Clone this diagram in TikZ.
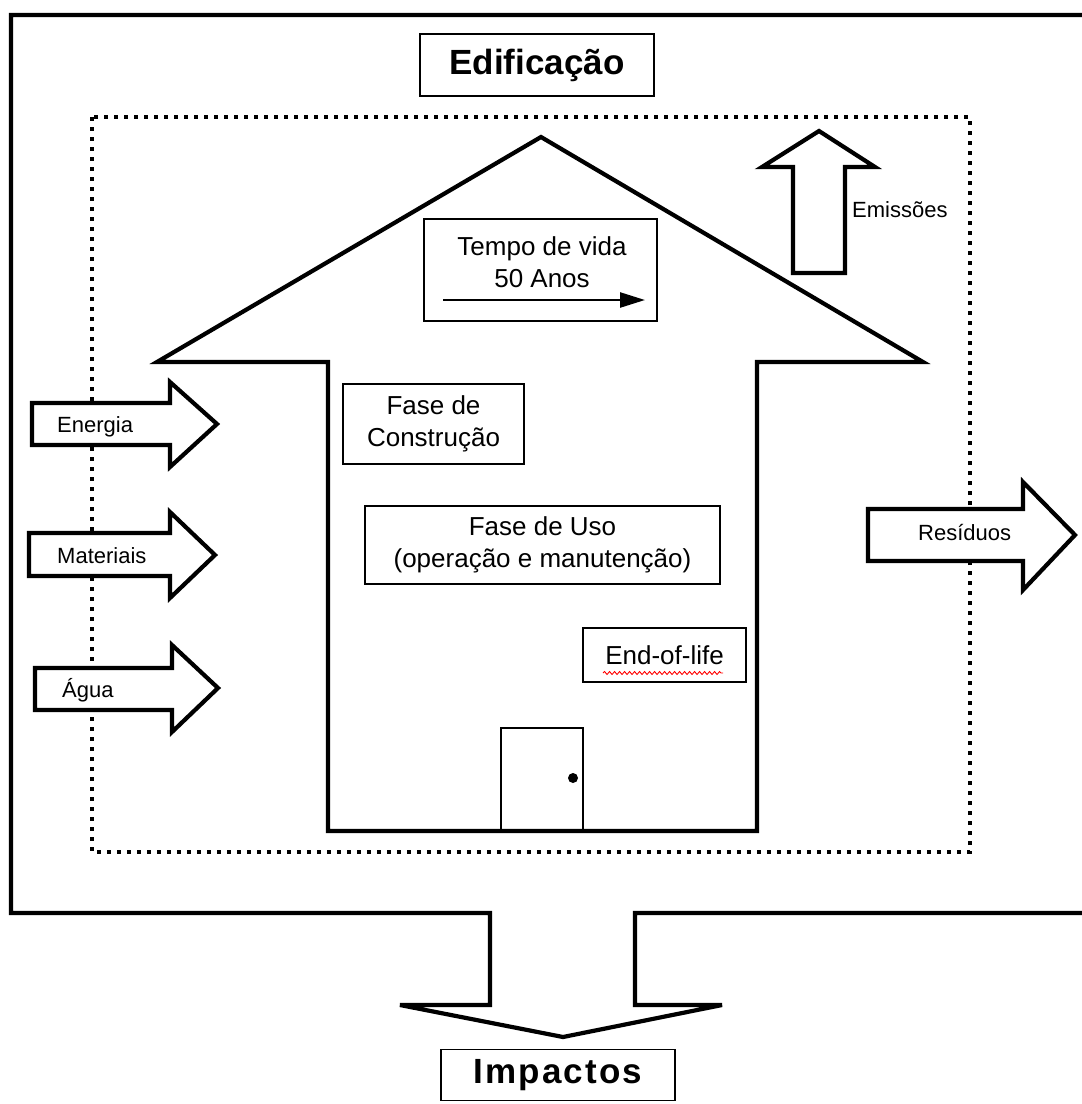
\documentclass[tikz,border=0pt]{standalone}
\usepackage{fontspec}
\setmainfont{Liberation Sans}
\usetikzlibrary{arrows.meta,decorations.pathmorphing}
\begin{document}
\begin{tikzpicture}[x=1pt,y=-1pt,
  heavy/.style={line width=4.2pt, line join=miter},
  boundary/.style={line width=4pt, dash pattern=on 4pt off 6pt},
  labelbox/.style={draw, line width=1.6pt, inner sep=0pt, align=center,
    font=\fontsize{26}{32}\selectfont},
  plaintext/.style={inner sep=0pt, align=center, font=\fontsize{26}{32}\selectfont},
  titlebox/.style={draw, line width=1.6pt, inner sep=0pt,
    font=\fontsize{35}{40}\selectfont\bfseries},
  flowarrow/.style={draw, line width=4.2pt, fill=white, line join=miter},
  flowlabel/.style={inner sep=0pt, font=\fontsize{22}{26}\selectfont}]
\useasboundingbox (0,0) rectangle (1082,1104);

% outer frame, opening downwards into the impact arrow
\draw[heavy] (1095,15) -- (11,15) -- (11,913) -- (490,913) -- (490,1005)
  -- (400,1005) -- (563,1037) -- (722,1005) -- (635,1005) -- (635,913) -- (1095,913);

% title boxes
\node[titlebox, minimum width=234pt, minimum height=62pt] (edif) at (537,65) {Edificação};
\node[titlebox, minimum width=234pt, minimum height=51pt] (impact) at (558,1075) {\addfontfeature{LetterSpace=6}Impactos};

% system boundary
\draw[boundary] (92,117) rectangle (970,852);

% house outline
\draw[heavy] (328,362) -- (157,362) -- (541,137) -- (923,362) -- (757,362)
  -- (757,831) -- (328,831) -- cycle;

% door
\draw[line width=1.5pt] (501,831) rectangle (583,728);
\fill (573,778) circle (5pt);

% life span box
\node[draw, line width=1.6pt, minimum width=233pt, minimum height=102pt] (tempo) at (540.5,270) {};
\node[plaintext] (tempotxt) at (542,262) {Tempo de vida\\50 Anos};
\coordinate (tstart) at (443,300);
\coordinate (tend) at (645,300);
\draw[line width=2.5pt, -{Triangle[length=25pt,width=15pt]}] (tstart) -- (tend);

% phases
\node[labelbox, minimum width=181pt, minimum height=80pt] (constr) at (433.5,424) {Fase de\\Construção};
\node[labelbox, minimum width=355pt, minimum height=78pt] (uso) at (542.5,545) {Fase de Uso\\(operação e manutenção)};
\node[labelbox, minimum width=163pt, minimum height=54pt] (eol) at (664.5,655) {End-of-life};
\draw[red, line width=0.9pt, decorate, decoration={snake, amplitude=1.5pt, segment length=5pt}]
  (603,673) -- (723,673);

% inputs
\draw[flowarrow] (32,403) -- (170,403) -- (170,382) -- (217,424) -- (170,467) -- (170,445) -- (32,445) -- cycle;
\draw[flowarrow] (29,533) -- (170,533) -- (170,512) -- (215,555) -- (170,598) -- (170,576) -- (29,576) -- cycle;
\draw[flowarrow] (35,668) -- (172,668) -- (172,645) -- (218,688) -- (172,732) -- (172,710) -- (35,710) -- cycle;
\node[flowlabel, anchor=base west] (energia) at (57,432) {Energia};
\node[flowlabel, anchor=base west] (materiais) at (57,563) {Materiais};
\node[flowlabel, anchor=base west] (agua) at (62,697) {Água};

% outputs
\draw[flowarrow] (868,509) -- (1023,509) -- (1023,482) -- (1075,535) -- (1023,590) -- (1023,561) -- (868,561) -- cycle;
\node[flowlabel, anchor=base west] (residuos) at (918,540) {Resíduos};
\draw[flowarrow] (793,273) -- (793,167) -- (762,167) -- (819,131) -- (875,167) -- (845,167) -- (845,273) -- cycle;
\node[flowlabel, anchor=base west] (emissoes) at (852,217) {Emissões};
\end{tikzpicture}
\end{document}
